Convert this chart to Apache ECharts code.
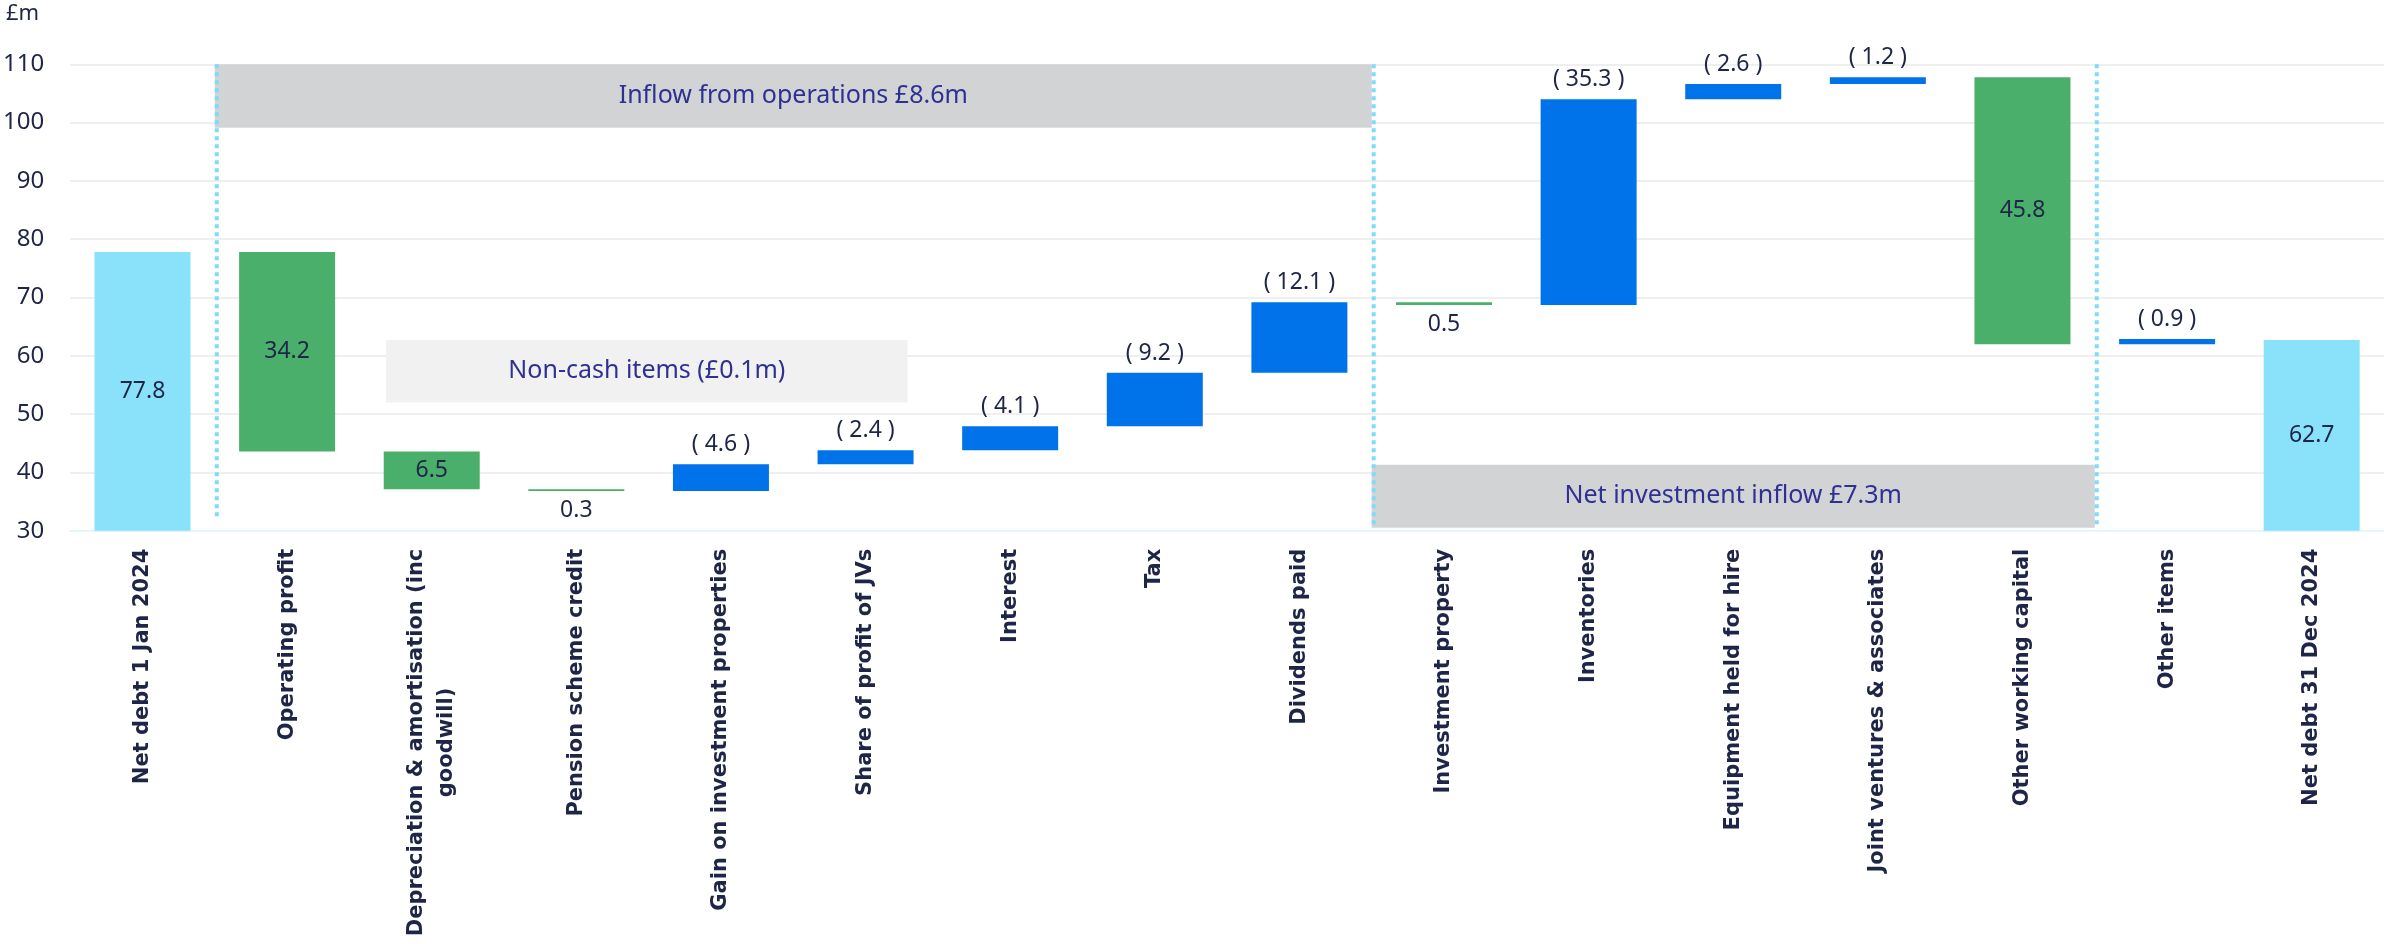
<!DOCTYPE html>
<html>
<head>
<meta charset="utf-8">
<script src="https://cdn.jsdelivr.net/npm/echarts@6.0.0/dist/echarts.min.js"></script>
<style>
html,body{margin:0;padding:0;background:#ffffff;}
#chart{width:2384px;height:944px;}
</style>
</head>
<body>
<div id="chart"></div>
<script>
// ---- data ----
const categories = [
  'Net debt 1 Jan 2024',
  'Operating profit',
  'Depreciation & amortisation (inc\ngoodwill)',
  'Pension scheme credit',
  'Gain on investment properties',
  'Share of profit of JVs',
  'Interest',
  'Tax',
  'Dividends paid',
  'Investment property',
  'Inventories',
  'Equipment held for hire',
  'Joint ventures & associates',
  'Other working capital',
  'Other items',
  'Net debt 31 Dec 2024'
];
// opening / closing net debt (£m)
const totals = [77.8, null, null, null, null, null, null, null, null, null, null, null, null, null, null, 62.7];
// movement in net debt (£m): negative = cash inflow (reduces debt), positive = outflow
const movements = [null, -34.2, -6.5, -0.3, 4.6, 2.4, 4.1, 9.2, 12.1, -0.5, 35.3, 2.6, 1.2, -45.8, 0.9, null];

const yMin = 30, yMax = 110, yInterval = 10;
const unitLabel = '£m';

// shaded group banners (x in category slots, y in £m)
const bannerLabels = ['Inflow from operations £8.6m', 'Non-cash items (£0.1m)', 'Net investment inflow £7.3m'];
const bannerFrom = [1, 2.185, 9];
const bannerTo = [9, 5.79, 14];
const bannerLow = [99.1, 52.0, 30.5];
const bannerHigh = [110, 62.7, 41.3];

// dotted group separators
const dividerAt = [1, 9, 14];
const dividerLow = [32.5, 30.5, 30.5];
const dividerHigh = [110, 110, 110];

// ---- styles ----
const FONT = '"Noto Sans", "DejaVu Sans", sans-serif';
const AXIS_FONT = '"DejaVu Sans", sans-serif';
const NAVY = '#1e2547';
const BANNER_TEXT = '#2e3192';
const C_TOTAL = '#8ae2fa';
const C_IN = '#4aaf6a';
const C_OUT = '#0073ea';
const bannerFills = ['#d1d3d5', '#f1f1f1', '#d1d3d5'];

// ---- build waterfall ----
const baseData = [];
const valueData = [];
let running = 0;
categories.forEach((c, i) => {
  if (totals[i] !== null) {
    running = totals[i];
    baseData.push(yMin);
    valueData.push({
      value: totals[i] - yMin,
      itemStyle: { color: C_TOTAL },
      label: { show: true, position: 'inside', formatter: totals[i].toFixed(1) }
    });
  } else {
    const m = movements[i];
    const start = running;
    const end = running + m;
    running = end;
    baseData.push(Math.min(start, end));
    const isOut = m > 0;
    const txt = isOut ? '( ' + Math.abs(m).toFixed(1) + ' )' : Math.abs(m).toFixed(1);
    let pos = 'inside';
    if (isOut) pos = 'top';
    else if (Math.abs(m) < 1) pos = 'bottom';
    valueData.push({
      value: Math.abs(m),
      itemStyle: { color: isOut ? C_OUT : C_IN },
      label: { show: true, position: pos, formatter: txt, distance: 8 }
    });
  }
});

const bannerData = bannerLabels.map((t, i) => [bannerFrom[i], bannerTo[i], bannerLow[i], bannerHigh[i], i]);
const dividerData = dividerAt.map((x, i) => [x, dividerLow[i], dividerHigh[i]]);

const chart = echarts.init(document.getElementById('chart'), null, { renderer: 'canvas' });

const option = {
  animation: false,
  backgroundColor: '#ffffff',
  textStyle: { fontFamily: FONT },
  graphic: [{
    type: 'text', left: 6, top: 3,
    style: { text: unitLabel, font: '22px ' + FONT, fill: NAVY }
  }],
  grid: { left: 68, right: 0, top: 64.3, bottom: 413.3, containLabel: false },
  xAxis: [{
    type: 'category',
    data: categories,
    boundaryGap: true,
    axisTick: { show: false },
    axisLine: { show: true, lineStyle: { color: '#e4f6fb', width: 2 } },
    axisLabel: {
      interval: 0,
      rotate: 90,
      margin: 18,
      formatter: v => v.split('\n').map(s => '{c|' + s + '}').join('\n'),
      rich: {
        c: { align: 'center', fontFamily: AXIS_FONT, fontSize: 21, fontWeight: 'bold', color: NAVY, lineHeight: 30 }
      }
    }
  }, {
    type: 'value', min: 0, max: categories.length, show: false
  }],
  yAxis: {
    type: 'value',
    min: yMin, max: yMax, interval: yInterval,
    axisLine: { show: false },
    axisTick: { show: false },
    axisLabel: { fontSize: 24, color: NAVY, margin: 26, fontFamily: FONT },
    splitLine: { lineStyle: { color: '#efefef', width: 2 } }
  },
  series: [
    {
      type: 'custom',
      name: 'banners',
      xAxisIndex: 1,
      yAxisIndex: 0,
      z: 1,
      data: bannerData,
      encode: { x: [0, 1], y: [2, 3] },
      renderItem: (params, api) => {
        const idx = api.value(4);
        const p0 = api.coord([api.value(0), api.value(3)]);
        const p1 = api.coord([api.value(1), api.value(2)]);
        return {
          type: 'group',
          children: [{
            type: 'rect',
            shape: { x: p0[0], y: p0[1], width: p1[0] - p0[0], height: p1[1] - p0[1] },
            style: { fill: bannerFills[idx] }
          }, {
            type: 'text',
            style: {
              text: bannerLabels[idx],
              x: (p0[0] + p1[0]) / 2, y: (p0[1] + p1[1]) / 2,
              align: 'center', verticalAlign: 'middle',
              font: '25px ' + FONT, fill: BANNER_TEXT
            }
          }]
        };
      }
    },
    {
      type: 'bar',
      name: 'base',
      stack: 'wf',
      barWidth: 96,
      silent: true,
      itemStyle: { color: 'transparent' },
      data: baseData,
      z: 2
    },
    {
      type: 'bar',
      name: 'value',
      stack: 'wf',
      barWidth: 96,
      data: valueData,
      z: 3,
      label: { fontFamily: FONT, fontSize: 23, color: NAVY }
    },
    {
      type: 'custom',
      name: 'dividers',
      xAxisIndex: 1,
      yAxisIndex: 0,
      z: 4,
      data: dividerData,
      encode: { x: 0, y: [1, 2] },
      renderItem: (params, api) => {
        const a = api.coord([api.value(0), api.value(2)]);
        const b = api.coord([api.value(0), api.value(1)]);
        return {
          type: 'line',
          shape: { x1: a[0] + 2, y1: a[1], x2: b[0] + 2, y2: b[1] },
          style: { stroke: '#7fdcf8', lineWidth: 4, lineDash: [4, 4] }
        };
      }
    }
  ]
};
chart.setOption(option);
</script>
</body>
</html>
